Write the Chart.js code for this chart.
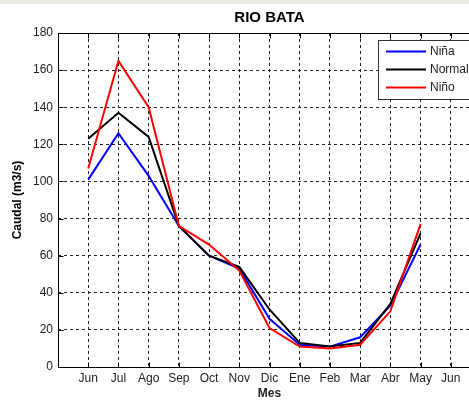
<!DOCTYPE html>
<html>
<head>
<meta charset="utf-8">
<script src="https://cdn.jsdelivr.net/npm/chart.js@4"></script>
<style>
  html, body { margin: 0; padding: 0; background: #fff; overflow: hidden; width: 469px; height: 400px; }
  #box { position: relative; width: 500px; height: 400px; }
</style>
</head>
<body>
<div id="box"><canvas id="chart" width="500" height="400"></canvas></div>
<script>
// datos
const meses = ['Jun', 'Jul', 'Ago', 'Sep', 'Oct', 'Nov', 'Dic', 'Ene', 'Feb', 'Mar', 'Abr', 'May', 'Jun'];
const nina = [101, 126, 103, 76, 60, 53, 26, 12, 11, 16, 33, 66];
const normal = [123, 137, 124, 76, 60, 54, 31, 13, 11, 13, 34, 72];
const nino = [107, 165, 140, 76, 66, 52, 21, 11, 10, 12, 30, 77];
const yTicks = [0, 20, 40, 60, 80, 100, 120, 140, 160, 180];

const FONT = "'Liberation Sans', Arial, sans-serif";

function toPoints(values) {
    return values.map((v, i) => ({ x: i + 1, y: v }));
}

// titulo, marco, marcas internas y leyenda al estilo matlab
const matlabFrame = {
    id: 'matlabFrame',
    beforeDraw(chart) {
        const ctx = chart.ctx;
        ctx.save();
        ctx.fillStyle = '#ece9e5';
        ctx.fillRect(0, 0, chart.width, 4);
        ctx.restore();
    },
    afterDraw(chart) {
        const ctx = chart.ctx;
        const a = chart.chartArea;
        const L = Math.round(a.left) + 0.5, R = Math.round(a.right) + 0.5;
        const T = Math.round(a.top) + 0.5, B = Math.round(a.bottom) + 0.5;
        const xs = chart.scales.x, ys = chart.scales.y;
        ctx.save();
        ctx.strokeStyle = '#000';
        ctx.lineWidth = 1;
        ctx.strokeRect(L, T, R - L, B - T);
        ctx.beginPath();
        xs.ticks.forEach(t => {
            const px = Math.round(xs.getPixelForValue(t.value)) + 0.5;
            ctx.moveTo(px, B); ctx.lineTo(px, B - 5);
            ctx.moveTo(px, T); ctx.lineTo(px, T + 5);
        });
        ys.ticks.forEach(t => {
            const py = Math.round(ys.getPixelForValue(t.value)) + 0.5;
            ctx.moveTo(L, py); ctx.lineTo(L + 5, py);
            ctx.moveTo(R, py); ctx.lineTo(R - 5, py);
        });
        ctx.stroke();

        // titulo
        ctx.fillStyle = '#000';
        ctx.font = 'bold 15px ' + FONT;
        ctx.textAlign = 'center';
        ctx.textBaseline = 'middle';
        ctx.fillText('RIO BATA', (a.left + a.right) / 2, 18);

        // leyenda
        const lx = 378.5, ly = 40.5;
        ctx.fillStyle = '#fff';
        ctx.fillRect(lx, ly, 110, 59);
        ctx.strokeStyle = '#333';
        ctx.strokeRect(lx, ly, 110, 59);
        ctx.font = '12px ' + FONT;
        ctx.textAlign = 'left';
        chart.data.datasets.forEach((ds, i) => {
            const y = 51.5 + i * 18;
            ctx.strokeStyle = ds.borderColor;
            ctx.lineWidth = 2;
            ctx.beginPath();
            ctx.moveTo(386, y); ctx.lineTo(426, y);
            ctx.stroke();
            ctx.fillStyle = '#222';
            ctx.fillText(ds.label, 430, y);
        });
        ctx.restore();
    }
};

new Chart(document.getElementById('chart'), {
    type: 'line',
    data: {
        datasets: [
            { label: 'Niña', data: toPoints(nina), borderColor: '#0000ff', order: 2 },
            { label: 'Normal', data: toPoints(normal), borderColor: '#000000', order: 1 },
            { label: 'Niño', data: toPoints(nino), borderColor: '#ff0000', order: 0 }
        ]
    },
    options: {
        responsive: false,
        animation: false,
        devicePixelRatio: 1,
        layout: { padding: { top: 33, right: 19, left: 0, bottom: 0 } },
        elements: {
            line: { borderWidth: 2, tension: 0, fill: false },
            point: { radius: 0, hoverRadius: 0 }
        },
        plugins: {
            legend: { display: false },
            title: { display: false },
            tooltip: { enabled: false }
        },
        scales: {
            x: {
                type: 'linear',
                min: 0,
                max: 14,
                afterBuildTicks: s => {
                    s.ticks = meses.map((m, i) => ({ value: i + 1 }));
                },
                afterFit: s => { s.height = 33; },
                ticks: {
                    autoSkip: false,
                    maxRotation: 0,
                    padding: 4,
                    color: '#222',
                    font: { family: FONT, size: 12 },
                    callback: v => meses[v - 1] || ''
                },
                grid: { color: '#222', lineWidth: 1, drawTicks: false },
                border: { display: false, dash: [3, 3] },
                title: {
                    display: true,
                    text: 'Mes',
                    color: '#222',
                    padding: 0,
                    font: { family: FONT, size: 12, weight: 'bold', lineHeight: 1 }
                }
            },
            y: {
                min: 0,
                max: 180,
                afterBuildTicks: s => {
                    s.ticks = yTicks.map(v => ({ value: v }));
                },
                afterFit: s => { s.width = 58; },
                ticks: {
                    padding: 5,
                    color: '#222',
                    font: { family: FONT, size: 12 }
                },
                grid: { color: '#222', lineWidth: 1, drawTicks: false },
                border: { display: false, dash: [3, 3] },
                title: {
                    display: true,
                    text: 'Caudal (m3/s)',
                    color: '#000',
                    padding: { top: 12, bottom: 0 },
                    font: { family: FONT, size: 12, weight: 'bold', lineHeight: 1 }
                }
            }
        }
    },
    plugins: [matlabFrame]
});
</script>
</body>
</html>
